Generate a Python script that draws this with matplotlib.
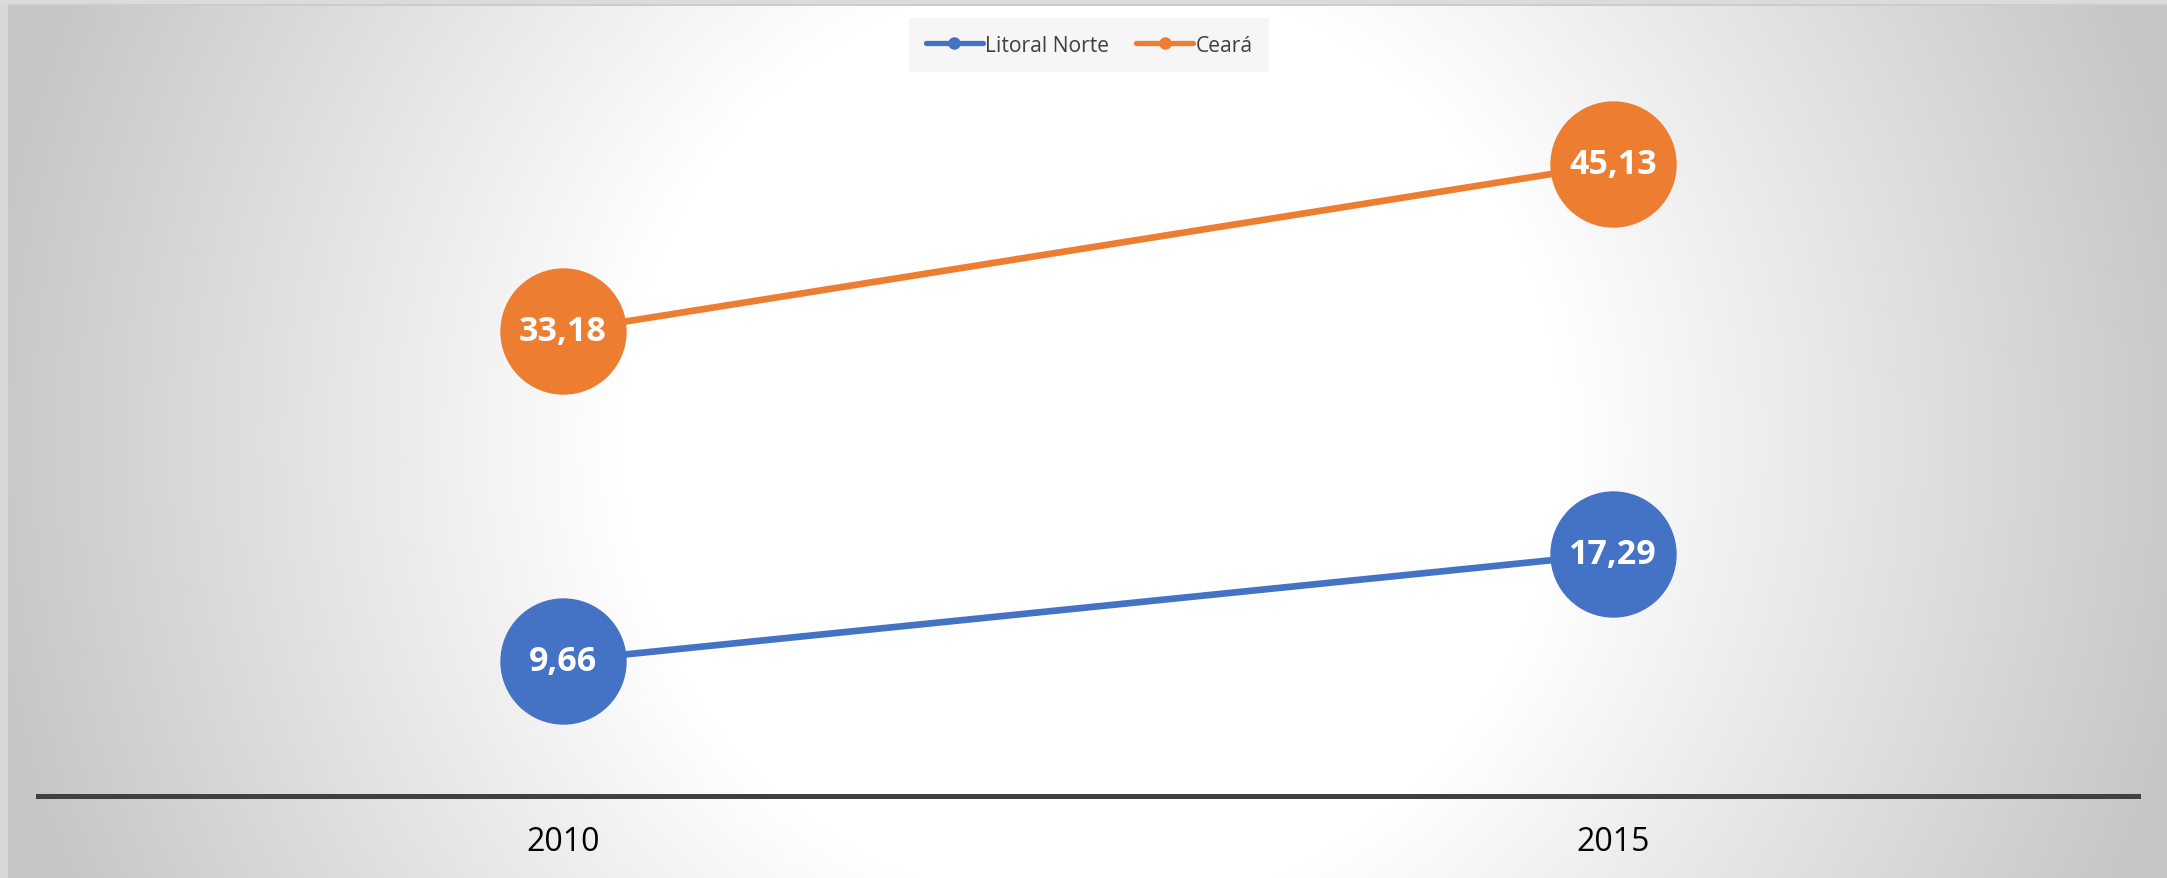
import numpy as np
import matplotlib
matplotlib.use("Agg")
import matplotlib.pyplot as plt
from matplotlib.lines import Line2D

# ---- data ----
categories = ["2010", "2015"]
series_names = ["Litoral Norte", "Ceará"]
litoral_norte = [9.66, 17.29]
ceara = [33.18, 45.13]
label_litoral = ["9,66", "17,29"]
label_ceara = ["33,18", "45,13"]

BLUE = "#4472C4"
ORANGE = "#ED7D31"

W, H = 2167, 879
fig = plt.figure(figsize=(W / 100, H / 100), dpi=100)

# ---- background radial gradient ----
bg = fig.add_axes([0, 0, 1, 1], zorder=0)
yy, xx = np.mgrid[0:H, 0:W]
cx, cy = 1092, 442
r = np.hypot(xx - cx, yy - cy)
t = np.clip((r - 470) / (1120 - 470), 0, 1)
v = 1.0 - t * (1.0 - 0.776)
img = np.dstack([v, v, v])
# left and top frame strips
img[:, :8, :] = 0.85
img[:6, :, :] = 0.86
img[5:7, 8:, :] = 0.80
bg.imshow(img, extent=[0, W, H, 0], aspect="auto", interpolation="bilinear")
bg.set_xlim(0, W)
bg.set_ylim(H, 0)
bg.axis("off")

# ---- main axes ----
ax = fig.add_axes([38 / W, (H - 797) / H, 2100 / W, 700 / H], zorder=1)
ax.set_facecolor("none")
x = np.arange(len(categories))

for vals, labels, color in [(ceara, label_ceara, ORANGE), (litoral_norte, label_litoral, BLUE)]:
    ax.plot(x, vals, color=color, linewidth=4.8, marker="o", markersize=91,
            markeredgewidth=0, solid_capstyle="butt", zorder=3)
    for xi, yi, lab in zip(x, vals, labels):
        ax.annotate(lab, (xi, yi), ha="center", va="center", color="white",
                    fontsize=24.5, fontweight="bold", family="Open Sans", zorder=4)

ax.set_xlim(-0.5, 1.5)
ax.set_ylim(0, 50)
ax.set_yticks([])
ax.set_xticks(x)
ax.set_xticklabels(categories, fontsize=23, family="Open Sans", color="black")
ax.tick_params(axis="x", length=0, pad=21)
for s in ["left", "right", "top"]:
    ax.spines[s].set_visible(False)
ax.spines["bottom"].set_color("#404040")
ax.spines["bottom"].set_linewidth(3.6)

# ---- legend ----
handles = [
    Line2D([0], [0], color=BLUE, lw=3.8, marker="o", markersize=9, markeredgewidth=0, solid_capstyle="round"),
    Line2D([0], [0], color=ORANGE, lw=3.8, marker="o", markersize=9, markeredgewidth=0, solid_capstyle="round"),
]
leg = fig.legend(handles, series_names, loc="center", bbox_to_anchor=(1089 / W, 1 - 46 / H),
                 ncol=2, frameon=True, fancybox=False, handlelength=2.7, handletextpad=0.1,
                 columnspacing=1.3, borderpad=0.8,
                 prop={"family": "Open Sans", "size": 15.2})
leg.get_frame().set_facecolor("#f6f6f6")
leg.get_frame().set_edgecolor("none")
leg.get_frame().set_alpha(1)
for txt in leg.get_texts():
    txt.set_color("#404040")
leg.set_zorder(5)

fig.savefig("out.png", dpi=100)
